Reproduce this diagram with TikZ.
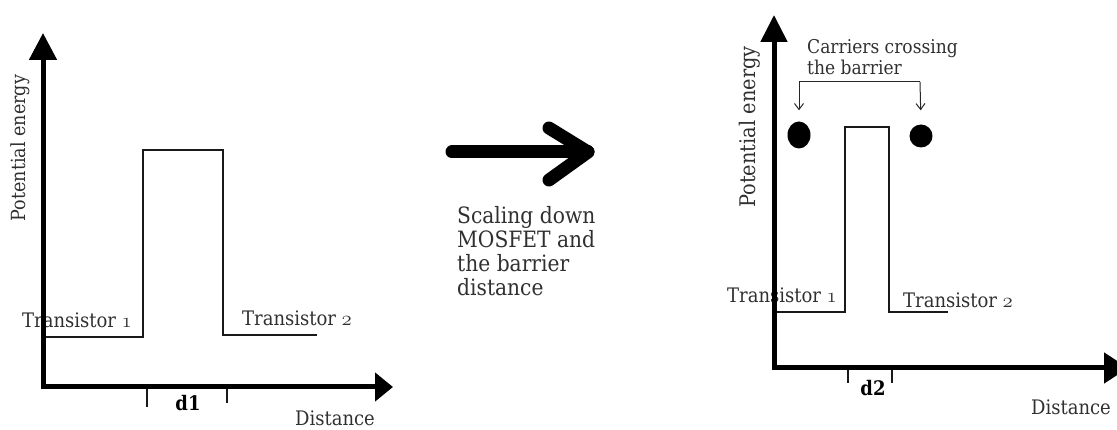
\documentclass[tikz,border=0pt]{standalone}
\usepackage{fontspec}
\setmainfont{DejaVu Serif Condensed}
\usetikzlibrary{arrows.meta,shapes.geometric}
\newcommand\osdigit[1]{{\usefont{OML}{cmm}{m}{it}#1}}
\definecolor{ink}{HTML}{303030}
\begin{document}
\begin{tikzpicture}[x=1pt,y=-1pt,
  axis/.style={line width=5pt,black},
  level/.style={line width=1.3pt,black!90},
  tick/.style={line width=1.2pt,black!90},
  lbl/.style={inner sep=0pt,text=ink,font=\fontsize{20}{22}\selectfont},
  tag/.style={inner sep=0pt,text=black,font=\fontsize{20}{22}\bfseries\selectfont},
  dot/.style={ellipse,fill=black,inner sep=0pt},
  pointer/.style={line width=1pt,black!85,-{Straight Barb[length=6pt,width=9pt]}}
]
\useasboundingbox (0,0) rectangle (1117,430);

% ---------- left plot: wide barrier ----------
\node[lbl,anchor=west] (t1a) at (22,320) {Transistor \osdigit{1}};
\node[lbl,anchor=west] (t2a) at (242,318) {Transistor \osdigit{2}};
\node[lbl,rotate=90,font=\fontsize{19.5}{20}\selectfont] (pea) at (20,148) {Potential energy};
\node[lbl] (dista) at (335,418) {Distance};
\node[tag] (d1) at (188,403) {d1};

\draw[level] (43,337) -- (143,337) -- (143,150) -- (223,150) -- (223,335) -- (317,335);
\draw[tick] (147,387) -- (147,407);
\draw[tick] (227,387) -- (227,403);

\coordinate (oa) at (41,387);
\coordinate (ya) at (43,33);
\coordinate (xa) at (393,387);
\draw[axis,-{Triangle[length=27pt,width=27pt]}] (43,389) -- (ya);
\draw[axis,-{Triangle[length=18pt,width=28pt]}] (oa) -- (xa);

% ---------- middle: transition arrow and caption ----------
\coordinate (ms) at (452,152);
\coordinate (me) at (588,152);
\draw[line width=13pt,line cap=round,line join=round] (ms) -- (me);
\draw[line width=13pt,line cap=round,line join=round] (549,128) -- (me) -- (549,180);
\node[lbl,anchor=north west,align=left,font=\fontsize{22.5}{24}\selectfont] (cap) at (457,206)
  {Scaling down\\MOSFET and\\the barrier\\distance};

% ---------- right plot: narrow barrier ----------
\node[lbl,anchor=west] (t1b) at (727,295) {Transistor \osdigit{1}};
\node[lbl,anchor=west] (t2b) at (903,300) {Transistor \osdigit{2}};
\node[lbl,rotate=90,font=\fontsize{21.5}{22}\selectfont] (peb) at (750,127) {Potential energy};
\node[lbl] (distb) at (1071,407) {Distance};
\node[tag] (d2) at (873,388) {d2};
\node[lbl,anchor=west,align=left,font=\fontsize{19}{21}\selectfont] (carr) at (807,57)
  {Carriers crossing\\the barrier};

\draw[level] (774,312) -- (845,312) -- (845,127) -- (889,127) -- (889,312) -- (948,312);
\draw[tick] (848,368) -- (848,383);
\draw[tick] (892,368) -- (892,383);

\node[dot,minimum width=23pt,minimum height=27pt] (cl) at (799,135) {};
\node[dot,minimum width=23pt,minimum height=23pt] (cr) at (921,136) {};
\coordinate (bl) at (799,82);
\coordinate (br) at (920,82);
\draw[line width=1pt,black!85] (bl) -- (br);
\draw[pointer,shorten >=11pt] (bl) -- (cl.north);
\draw[pointer,shorten >=14pt] (br) -- (cr.north);

\coordinate (ob) at (772,368);
\coordinate (yb) at (774,15);
\coordinate (xb) at (1128,368);
\draw[axis,-{Triangle[length=27pt,width=26pt]}] (774,370) -- (yb);
\draw[axis,-{Triangle[length=24pt,width=30pt]}] (ob) -- (xb);
\end{tikzpicture}
\end{document}
